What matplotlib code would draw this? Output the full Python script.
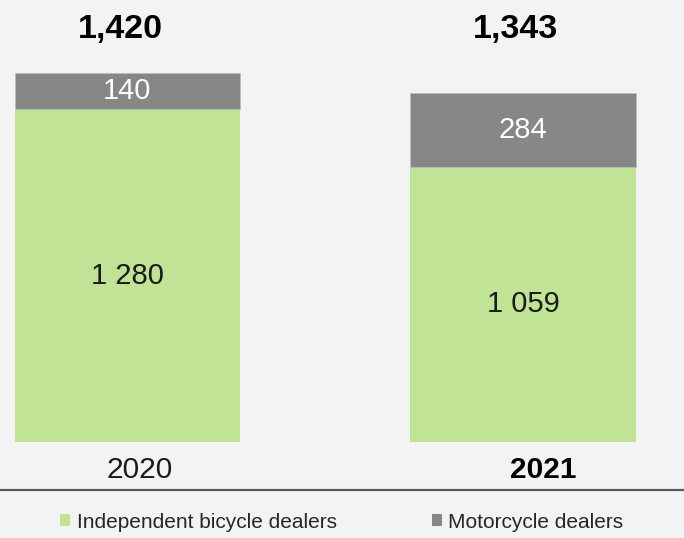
import matplotlib
matplotlib.use("Agg")
import matplotlib.pyplot as plt
from matplotlib.lines import Line2D
from matplotlib.patches import Patch

plt.rcParams["font.family"] = ["Liberation Sans", "DejaVu Sans"]

# data
years = ["2020", "2021"]
bicycle = [1280, 1059]
motorcycle = [140, 284]
totals = ["1,420", "1,343"]
bicycle_lbl = ["1 280", "1 059"]
motorcycle_lbl = ["140", "284"]
series_names = ["Independent bicycle dealers", "Motorcycle dealers"]

BG = "#f3f3f3"
GREEN = "#c0e396"
GREY = "#878787"
TXT = "#1a1a1a"

fig = plt.figure(figsize=(6.84, 5.38), dpi=100, facecolor=BG)
ax = fig.add_axes([0, 96 / 538, 1, 442 / 538])
ax.set_facecolor(BG)

x = [0, 1]
w = 0.569
ax.bar(x, bicycle, width=w, color=GREEN)
ax.bar(x, motorcycle, width=w, bottom=bicycle, color=GREY, edgecolor="#bdbdbd", linewidth=0.6)

for i in x:
    ax.text(i, bicycle[i] / 2, bicycle_lbl[i], ha="center", va="center", fontsize=21, color=TXT)
    ax.text(i, bicycle[i] + motorcycle[i] / 2, motorcycle_lbl[i], ha="center", va="center",
            fontsize=21, color="white")
    ax.text(i - 0.018, 1585, totals[i], ha="center", va="center", fontsize=24.5, fontweight="bold", color="black")

# year labels sit a bit right of bar centres in the original
ax.text(0 + 0.031, -108, years[0], ha="center", va="center", fontsize=21.5, color=TXT, clip_on=False)
ax.text(1 + 0.051, -108, years[1], ha="center", va="center", fontsize=21.5, fontweight="bold",
        color="black", clip_on=False)

ax.set_xlim(-0.322, 1.407)
ax.set_ylim(0, 1700)
ax.axis("off")

fig.add_artist(Line2D([0, 1], [48 / 538, 48 / 538], transform=fig.transFigure, color="#595959", lw=1.6))

handles = [Patch(facecolor=GREEN, edgecolor="none"), Patch(facecolor=GREY, edgecolor="none")]
fig.legend(handles, series_names, loc="center", bbox_to_anchor=(0.5, 16 / 538), ncol=2, frameon=False,
           fontsize=15, handlelength=0.48, handleheight=0.48, handletextpad=0.29, columnspacing=4.6,
           labelcolor="#262626")

fig.savefig("out.png", dpi=100, facecolor=BG)
